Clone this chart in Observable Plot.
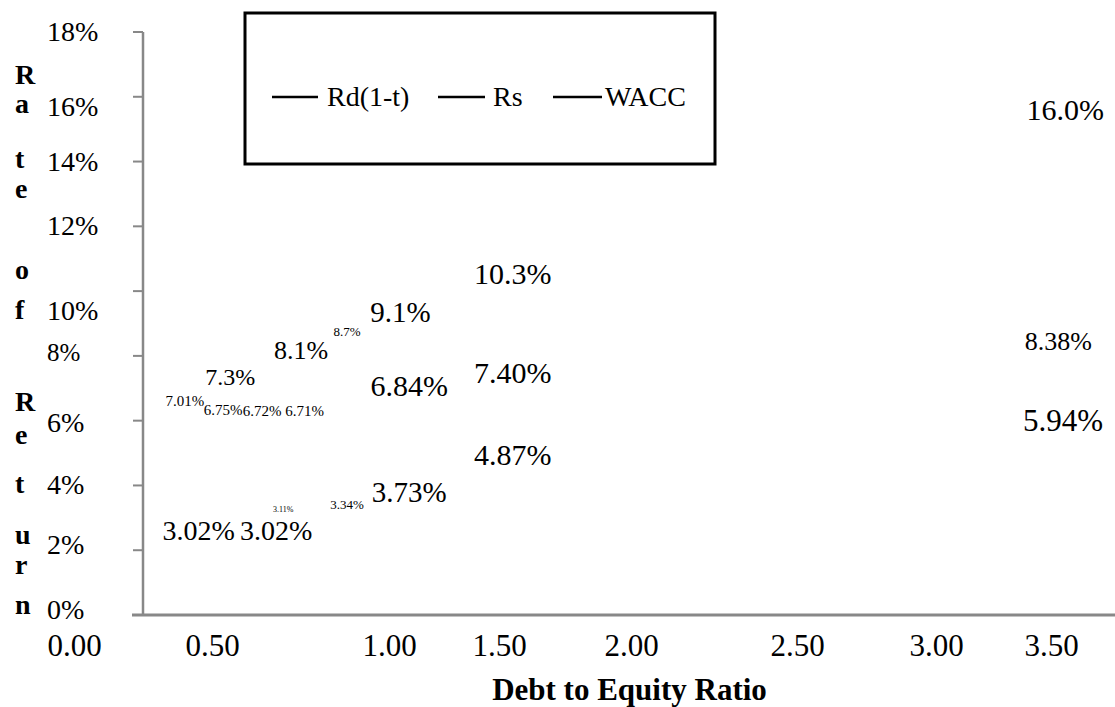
<!DOCTYPE html>
<html>
<head>
<meta charset="utf-8">
<script src="https://cdn.jsdelivr.net/npm/d3@7"></script>
<script src="https://cdn.jsdelivr.net/npm/@observablehq/plot@0.6"></script>
<style>
  html, body { margin: 0; padding: 0; background: #fff; }
  #chart { width: 1115px; height: 707px; }
</style>
</head>
<body>
<div id="chart"></div>
<script>
// Cost of capital against the debt-to-equity ratio: after-tax cost of debt,
// cost of equity and the weighted average cost of capital.
const seriesNames = ["Rd(1-t)", "Rs", "WACC"];

// Rd(1-t): after-tax cost of debt
const rdRatio = [0.45, 0.68, 0.70, 0.88, 1.09, 1.55, 3.55];
const rdRate  = [0.0302, 0.0302, 0.0311, 0.0334, 0.0373, 0.0487, 0.0594];

// Rs: cost of equity
const rsRatio = [0.55, 0.75, 0.88, 1.05, 1.55, 3.56];
const rsRate  = [0.073, 0.081, 0.087, 0.091, 0.103, 0.160];

// WACC
const waccRatio = [0.40, 0.53, 0.64, 0.76, 1.09, 1.55, 3.53];
const waccRate  = [0.0701, 0.0675, 0.0672, 0.0671, 0.0684, 0.0740, 0.0838];

// Axis ticks
const xTicks = [0, 0.5, 1, 1.5, 2, 2.5, 3, 3.5];
const yTicks = [0, 0.02, 0.04, 0.06, 0.08, 0.10, 0.12, 0.14, 0.16, 0.18];

// ---- presentation ----
const serif = "'Liberation Serif', 'Times New Roman', Times, serif";
const xTickPixels = [74, 212, 389, 499, 631, 797, 936, 1051];

// data-label font size and placement around each point
const rdLabelStyle = {
  size:  [28, 28, 8, 13, 29, 30, 31],
  place: ["below", "below", "raised", "center", "center", "center", "center"]
};
const rsLabelStyle = {
  size:  [24, 26, 13, 29, 30, 30],
  place: ["center", "center", "center", "above", "above", "below"]
};
const waccLabelStyle = {
  size:  [15, 15, 15, 15, 30, 30, 26],
  place: ["below", "below", "below", "below", "above", "center", "center"]
};
const placeDy = {above: -8, raised: -5, center: -2, below: 13};

const pct1 = d3.format(".1%");
const pct2 = d3.format(".2%");

function labelRows(series, ratios, rates, style, fmt) {
  return ratios.map((r, i) => ({
    series,
    ratio: r,
    rate: rates[i],
    label: fmt(rates[i]),
    size: style.size[i],
    place: style.place[i]
  }));
}

const labels = [
  ...labelRows(seriesNames[0], rdRatio, rdRate, rdLabelStyle, pct2),
  ...labelRows(seriesNames[1], rsRatio, rsRate, rsLabelStyle, pct1),
  ...labelRows(seriesNames[2], waccRatio, waccRate, waccLabelStyle, pct2)
];

// y tick label nudges (px) and sizes
const yLabelShift = {0.16: 10, 0.10: 20, 0.08: -3, 0.06: 2, 0.02: -5, 0: -5};
const yLabelSize = {0.08: 25};

// stacked vertical axis title: letter and baseline
const yTitleLetters = [
  ["R", 84], ["a", 113], ["t", 168], ["e", 198],
  ["o", 279], ["f", 319],
  ["R", 411], ["e", 444], ["t", 493], ["u", 544], ["r", 574], ["n", 614]
];

// axes lines, y ticks/labels, axis title and legend
function decorations(index, scales, values, dims) {
  const g = d3.create("svg:g")
    .attr("font-family", serif)
    .attr("text-anchor", "start")
    .attr("fill", "#000");
  const left = dims.marginLeft;
  const right = dims.width - dims.marginRight;
  const y = scales.y;
  const axisColor = "#888888";

  // y axis line and outward ticks
  g.append("line")
    .attr("x1", left).attr("x2", left)
    .attr("y1", y(yTicks[yTicks.length - 1])).attr("y2", y(0))
    .attr("stroke", axisColor).attr("stroke-width", 2.5);
  g.append("g").selectAll("line").data(yTicks.filter(t => t > 0)).join("line")
    .attr("x1", left - 10).attr("x2", left)
    .attr("y1", d => y(d)).attr("y2", d => y(d))
    .attr("stroke", axisColor).attr("stroke-width", 2);
  // x axis line
  g.append("line")
    .attr("x1", left - 11).attr("x2", right)
    .attr("y1", y(0)).attr("y2", y(0))
    .attr("stroke", axisColor).attr("stroke-width", 3);

  // y tick labels
  g.append("g").selectAll("text").data(yTicks).join("text")
    .attr("x", 47)
    .attr("y", d => y(d) + (yLabelShift[d] || 0))
    .attr("dy", "0.32em")
    .attr("font-size", d => yLabelSize[d] || 28)
    .text(d => d3.format(".0%")(d));

  // stacked y axis title
  g.append("g").attr("font-weight", "bold").attr("font-size", 28)
    .selectAll("text").data(yTitleLetters).join("text")
    .attr("x", 15).attr("y", d => d[1])
    .text(d => d[0]);

  // legend box
  const lg = g.append("g");
  lg.append("rect")
    .attr("x", 245).attr("y", 13).attr("width", 470).attr("height", 151)
    .attr("fill", "#fff").attr("stroke", "#000").attr("stroke-width", 3);
  const items = [
    {name: seriesNames[0], x0: 272, x1: 318, tx: 327},
    {name: seriesNames[1], x0: 438, x1: 485, tx: 493},
    {name: seriesNames[2], x0: 553, x1: 602, tx: 605}
  ];
  const ly = 97;
  items.forEach(it => {
    lg.append("line").attr("x1", it.x0).attr("x2", it.x1)
      .attr("y1", ly).attr("y2", ly)
      .attr("stroke", "#000").attr("stroke-width", 2.5);
    lg.append("text").attr("x", it.tx).attr("y", ly).attr("dy", "0.32em")
      .attr("font-size", 28).text(it.name);
  });
  return g.node();
}

const chart = Plot.plot({
  width: 1115,
  height: 707,
  marginLeft: 143,
  marginRight: 0,
  marginTop: 32,
  marginBottom: 92,
  style: {fontFamily: serif, background: "#fff", color: "#000", overflow: "visible"},
  x: {type: "linear", domain: xTicks, range: xTickPixels, axis: null},
  y: {domain: [0, 0.18], axis: null},
  marks: [
    decorations,
    // x tick labels
    Plot.text(xTicks, {
      x: d => d, text: d3.format(".2f"), frameAnchor: "bottom",
      lineAnchor: "middle", dy: 31, fontSize: 31, fill: "#000"
    }),
    // x axis title
    Plot.text(["Debt to Equity Ratio"], {
      frameAnchor: "bottom", lineAnchor: "middle",
      dy: 75, fontSize: 31, fontWeight: "bold", fill: "#000"
    }),
    // data labels
    ...Object.entries(placeDy).map(([place, dy]) =>
      Plot.text(labels.filter(d => d.place === place), {
        x: "ratio", y: "rate", text: "label", fontSize: "size",
        dy, lineAnchor: "middle", textAnchor: "middle", fill: "#000"
      })
    )
  ]
});

document.getElementById("chart").append(chart);
</script>
</body>
</html>
